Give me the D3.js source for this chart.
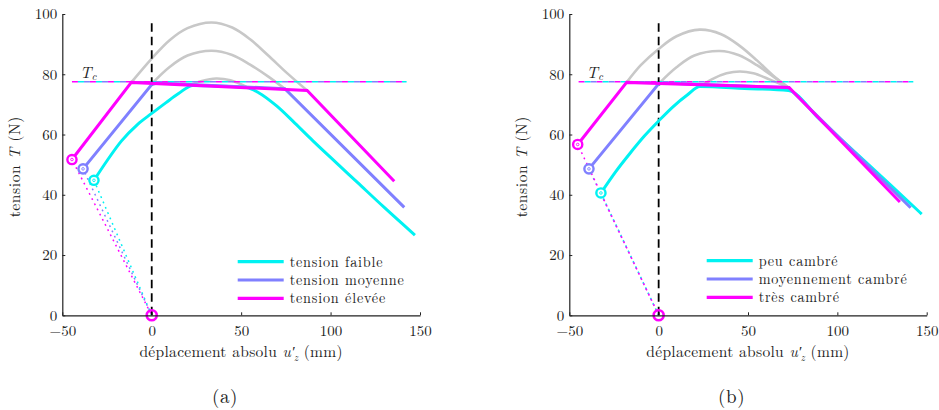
<!DOCTYPE html>
<html><head><meta charset="utf-8">
<script src="https://cdn.jsdelivr.net/npm/d3@7"></script>
</head>
<body style="margin:0;background:#fff"><svg id="c" width="939" height="410"></svg>
<script>
// ---------- data ----------
const xTicks = [-50, 0, 50, 100, 150];
const yTicks = [0, 20, 40, 60, 80, 100];
const Tc = 77.5;
const TcRangeA = [-44.6, 142.5];
const TcRangeB = [-44.8, 142.5];
const panelLabels = ["(a)", "(b)"];
const seriesNamesA = ["tension faible", "tension moyenne", "tension élevée"];
const seriesNamesB = ["peu cambré", "moyennement cambré", "très cambré"];
const seriesColors = ["#00f2f2", "#8080ff", "#ff00ff"];

// panel (a)
const faibleA = [[-32.3,44.8],[-25,51.3],[-17,57.8],[-8,63.3],[0,67],[8,70.6],[15,73.6],[23,76.3],[35,76.1],[53,75.6],[60,73.8],[70,69.4],[80,63.8],[90,58],[100,52.4],[115,44.1],[130,35.8],[147.2,26.6]];
const moyenneA = [[-38.4,48.6],[0,76.6],[3,77.1],[74.4,75.2],[141.2,35.8]];
const eleveeA = [[-44.6,51.7],[-11.4,77.3],[86.9,74.6],[135.6,44.5]];
const grayA1 = [[-11.4,77.3],[0,85.2],[10,91.3],[20,95.3],[33.4,97.2],[45,95.5],[55,91.6],[65,86.3],[76,80.2],[86.9,74.6]];
const grayA2 = [[0,76.8],[10,82.4],[20,86.2],[33.4,87.8],[45,86.4],[55,83.2],[65,79.3],[74.4,75.2]];
const grayA3 = [[20,76.1],[28,77.8],[36,78.6],[44,78],[53,75.8]];

// panel (b)
const peuB = [[-32.3,40.6],[-24,47.7],[-16,53.8],[-8,59.5],[0,64.5],[8,69.2],[16,73.1],[23.1,75.9],[48,75.3],[72.6,74.6],[90,65.1],[110,54.1],[130,43.1],[147.2,33.6]];
const moyenB = [[-39,48.6],[0,76.8],[3,77.1],[72.6,75.6],[141,35.7]];
const tresB = [[-45.3,56.7],[-17.9,77.3],[73,75.6],[135,37.6]];
const grayB1 = [[-17.9,77.3],[-10,83],[0,88.4],[10,92.6],[23,94.8],[35,93.3],[45,89.6],[55,84.6],[64,79.6],[72.6,75.6]];
const grayB2 = [[0,76.8],[10,82.3],[20,86.2],[34.3,87.7],[45,86.3],[55,83],[64,79.3],[72.6,75.6]];
const grayB3 = [[23.1,75.9],[30,78.4],[38,80.3],[45.5,80.9],[53,80.3],[62,78.3],[72.6,75.6]];

const origin = [0, 0];

// ---------- drawing ----------
const FONT = '"Latin Modern Roman", "CMU Serif", "Liberation Serif", serif';
const FS = 15;
const svg = d3.select("#c");
const H = {top: 14, bottom: 315.3};

function txt(sel) { return sel.append("text").attr("font-family", FONT).attr("fill", "#222"); }

function panel(opt) {
  const g = svg.append("g");
  const x = d3.scaleLinear().domain([-50, 150]).range([opt.x0, opt.x1]);
  const y = d3.scaleLinear().domain([0, 100]).range([H.bottom, H.top]);
  const line = d3.line().x(d => x(d[0])).y(d => y(d[1]));
  const smooth = d3.line().x(d => x(d[0])).y(d => y(d[1])).curve(d3.curveMonotoneX);
  const arch = d3.line().x(d => x(d[0])).y(d => y(d[1])).curve(d3.curveCatmullRom.alpha(0.5));

  // gray arches
  opt.grays.forEach(s => {
    g.append("path").attr("d", arch(s)).attr("fill", "none")
      .attr("stroke", "#c8c8c8").attr("stroke-width", 2.6);
  });

  // dotted lines to origin
  opt.series.forEach((s, i) => {
    g.append("path").attr("d", line([s[0], origin])).attr("fill", "none")
      .attr("stroke", seriesColors[i]).attr("stroke-width", 1.5)
      .attr("stroke-dasharray", "1.8,4").attr("stroke-dashoffset", i * 1.4);
  });

  // Tc line (multicolored dashes)
  const tcL = [[opt.tc[0], Tc], [opt.tc[1], Tc]];
  [[2, 0], [1, 6], [0, 12]].forEach(([ci, off]) => {
    g.append("path").attr("d", line(tcL)).attr("fill", "none")
      .attr("stroke", seriesColors[ci]).attr("stroke-width", 1.4)
      .attr("stroke-dasharray", "6,12").attr("stroke-dashoffset", off);
  });
  const tct = txt(g).attr("x", x(opt.tc[0]) + 8).attr("y", y(Tc) - 4).attr("font-size", FS + 1);
  tct.append("tspan").attr("font-style", "italic").text("T");
  tct.append("tspan").attr("font-size", 11).attr("font-style", "italic").attr("dy", 2).text("c");

  // vertical dashed line at 0
  g.append("line").attr("x1", x(0)).attr("x2", x(0)).attr("y1", y(0)).attr("y2", y(97.6))
    .attr("stroke", "#000").attr("stroke-width", 1.8).attr("stroke-dasharray", "8.5,5");

  // series lines
  opt.series.forEach((s, i) => {
    g.append("path").attr("d", (i === 0 ? smooth : line)(s)).attr("fill", "none")
      .attr("stroke", seriesColors[i]).attr("stroke-width", 3);
  });

  // start circles
  const mark = (p, c) => {
    g.append("circle").attr("cx", x(p[0])).attr("cy", y(p[1])).attr("r", 4.6)
      .attr("fill", "#fff").attr("stroke", c).attr("stroke-width", 2.4);
    g.append("circle").attr("cx", x(p[0])).attr("cy", y(p[1])).attr("r", 1.3)
      .attr("fill", "none").attr("stroke", c).attr("stroke-width", 0.9);
  };
  opt.series.forEach((s, i) => mark(s[0], seriesColors[i]));
  g.append("circle").attr("cx", x(0)).attr("cy", y(0)).attr("r", 5)
    .attr("fill", "none").attr("stroke", seriesColors[2]).attr("stroke-width", 2.6);

  // axes
  const ax = g.append("g").attr("transform", `translate(0,${y(0)})`)
    .call(d3.axisBottom(x).tickValues(xTicks).tickSizeInner(-3).tickSizeOuter(0)
      .tickFormat(d => d < 0 ? "\u2212" + Math.abs(d) : d));
  ax.attr("font-family", FONT).attr("font-size", FS);
  ax.select(".domain").attr("stroke", "#222").attr("stroke-width", 1.2);
  ax.selectAll(".tick line").attr("stroke", "#222");
  ax.selectAll(".tick text").attr("fill", "#222").attr("dy", "1.15em");
  const ay = g.append("g").attr("transform", `translate(${x(-50)},0)`)
    .call(d3.axisLeft(y).tickValues(yTicks).tickSizeInner(-3).tickSizeOuter(0));
  ay.attr("font-family", FONT).attr("font-size", FS);
  ay.select(".domain").attr("stroke", "#222").attr("stroke-width", 1.2);
  ay.selectAll(".tick line").attr("stroke", "#222");
  ay.selectAll(".tick text").attr("fill", "#222").attr("x", -5);

  // axis titles
  const xt = txt(g).attr("x", (opt.x0 + opt.x1) / 2).attr("y", 357)
    .attr("text-anchor", "middle").attr("font-size", FS + 0.5).attr("letter-spacing", 0.3);
  xt.append("tspan").text("déplacement absolu ");
  xt.append("tspan").attr("font-style", "italic").text("u\u2032");
  xt.append("tspan").attr("font-size", 10).attr("font-style", "italic").attr("dy", 4).attr("dx", -1).text("z");
  xt.append("tspan").attr("dy", -4).text(" (mm)");

  const yt = txt(g).attr("transform", `translate(${opt.x0 - 42},${y(50) + 2}) rotate(-90)`)
    .attr("text-anchor", "middle").attr("font-size", FS + 0.5).attr("letter-spacing", 0.6);
  yt.append("tspan").text("tension ");
  yt.append("tspan").attr("font-style", "italic").text("T");
  yt.append("tspan").text(" (N)");

  // legend
  opt.names.forEach((n, i) => {
    const ly = opt.ly + i * 18.3;
    g.append("line").attr("x1", opt.lx).attr("x2", opt.lx + 46).attr("y1", ly).attr("y2", ly)
      .attr("stroke", seriesColors[i]).attr("stroke-width", 3.2);
    txt(g).attr("x", opt.lx + 52).attr("y", ly + 5).attr("font-size", 14.2)
      .attr("letter-spacing", 0.8).text(n);
  });

  // panel label
  txt(g).attr("x", opt.labX).attr("y", 403).attr("text-anchor", "middle")
    .attr("font-size", 19).attr("letter-spacing", 0.6).text(opt.label);
}

panel({x0: 62.3, x1: 420, series: [faibleA, moyenneA, eleveeA], grays: [grayA1, grayA2, grayA3],
  tc: TcRangeA, names: seriesNamesA, lx: 237.7, ly: 261.7, labX: 225, label: panelLabels[0]});
panel({x0: 569.3, x1: 926.7, series: [peuB, moyenB, tresB], grays: [grayB1, grayB2, grayB3],
  tc: TcRangeB, names: seriesNamesB, lx: 706.7, ly: 260.7, labX: 731.7, label: panelLabels[1]});
</script></body></html>
